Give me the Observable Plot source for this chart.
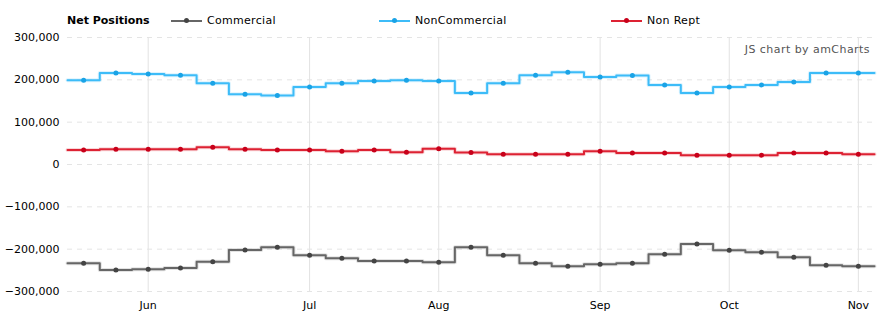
<!DOCTYPE html>
<html>
<head>
<meta charset="utf-8">
<script src="https://cdn.jsdelivr.net/npm/d3@7"></script>
<script src="https://cdn.jsdelivr.net/npm/@observablehq/plot@0.6"></script>
<style>
  html, body { margin: 0; padding: 0; background: #fff; }
  body { width: 888px; height: 325px; overflow: hidden; font-family: "DejaVu Sans", Verdana, sans-serif; }
  #wrap { position: relative; width: 888px; }
  #legend { height: 30px; position: relative; font-size: 11px; color: #000; }
  #legend .title { position: absolute; left: 67px; top: 14px; font-weight: bold; }
  #legend .item { position: absolute; top: 14px; display: flex; align-items: center; }
  #legend .lab { letter-spacing: 0.3px; }
  #legend .sw { position: relative; width: 31px; height: 2px; margin-right: 5px; }
  #legend .sw i { position: absolute; left: 13px; top: -1.5px; width: 5px; height: 5px; border-radius: 50%; }
  #credit { position: absolute; right: 18px; top: 43px; font-size: 11px; letter-spacing: 0.45px; color: #555; }
</style>
</head>
<body>
<div id="wrap">
  <div id="legend"></div>
  <div id="chart"></div>
  <div id="credit">JS chart by amCharts</div>
</div>
<script>
// Weekly report dates (Tuesdays)
const dates = [
  "2021-05-18","2021-05-25","2021-06-01","2021-06-08","2021-06-15","2021-06-22","2021-06-29",
  "2021-07-06","2021-07-13","2021-07-20","2021-07-27","2021-08-03","2021-08-10","2021-08-17",
  "2021-08-24","2021-08-31","2021-09-07","2021-09-14","2021-09-21","2021-09-28","2021-10-05",
  "2021-10-12","2021-10-19","2021-10-26","2021-11-02"
];
const commercial = [
  -233000,-249000,-247500,-244500,-230000,-202000,-195500,
  -214500,-221500,-228000,-228000,-231000,-195500,-214500,
  -233500,-240500,-235500,-233500,-212000,-188000,-202500,
  -207500,-219000,-238000,-240500
];
const nonCommercial = [
  199000,216000,214000,211000,192000,166000,163000,
  183000,192000,197000,199000,197000,169000,192000,
  211000,218000,206500,210000,188000,169000,183000,
  188000,195000,216000,216000
];
const nonRept = [
  34000,36000,36000,36000,41000,36000,34000,
  34500,31500,34500,29000,37000,28500,24500,
  24500,24500,31500,27000,27000,22000,22000,
  22000,27000,27000,24500
];
const seriesNames = ["Commercial", "NonCommercial", "Non Rept"];
const lineColors = ["#666666", "#3dbcf8", "#dd2233"];
const dotColors = ["#444444", "#1aa3e6", "#c8001a"];
const yTicks = [-300000, -200000, -100000, 0, 100000, 200000, 300000];
const monthTicks = ["2021-06-01","2021-07-06","2021-08-03","2021-09-07","2021-10-05","2021-11-02"];
const monthLabels = ["Jun","Jul","Aug","Sep","Oct","Nov"];
const legendTitle = "Net Positions";

const parse = d3.utcParse("%Y-%m-%d");
const D = dates.map(parse);
const halfWeek = 3.5 * 864e5;
const valuesBySeries = [commercial, nonCommercial, nonRept];

// points
const points = [];
valuesBySeries.forEach((vals, s) => vals.forEach((v, i) => points.push({series: seriesNames[s], date: D[i], value: v})));

// step path data: each value spans [date - half week, date + half week]
const steps = [];
valuesBySeries.forEach((vals, s) => {
  vals.forEach((v, i) => steps.push({series: seriesNames[s], date: new Date(+D[i] - halfWeek), value: v}));
  steps.push({series: seriesNames[s], date: new Date(+D[D.length - 1] + halfWeek), value: vals[vals.length - 1]});
});

const xDomain = [new Date(+D[0] - halfWeek), new Date(+D[D.length - 1] + halfWeek)];
const tickDates = monthTicks.map(parse);
const labelOf = new Map(tickDates.map((d, i) => [+d, monthLabels[i]]));
const fmt = d3.format(",");

const chart = Plot.plot({
  width: 888,
  height: 295,
  marginTop: 7,
  marginBottom: 34,
  marginLeft: 67,
  marginRight: 14,
  style: {fontFamily: "'DejaVu Sans', Verdana, sans-serif", fontSize: "11px", color: "#000", background: "#fff"},
  x: {type: "utc", domain: xDomain, ticks: tickDates, tickFormat: d => labelOf.get(+d), tickSize: 0, tickPadding: 10, label: null},
  y: {domain: [-300000, 300000], ticks: yTicks, tickFormat: d => fmt(d), tickSize: 0, tickPadding: 8, label: null},
  color: {domain: seriesNames, range: lineColors},
  marks: [
    Plot.ruleY(yTicks, {stroke: "#e4e4e4", strokeDasharray: "5,5", strokeWidth: 1}),
    Plot.ruleX(tickDates, {stroke: "#e2e2e2", strokeWidth: 1}),
    Plot.lineY(steps, {x: "date", y: "value", z: "series", stroke: "series", curve: "step-after", strokeWidth: 4, strokeOpacity: 0.18}),
    Plot.lineY(steps, {x: "date", y: "value", z: "series", stroke: "series", curve: "step-after", strokeWidth: 2}),
    Plot.dot(points, {x: "date", y: "value", r: 2.5, fill: d => dotColors[seriesNames.indexOf(d.series)], stroke: "none"}),
    Plot.axisX({ticks: tickDates, tickFormat: d => labelOf.get(+d), tickSize: 0, tickPadding: 10, label: null}),
    Plot.axisY({ticks: yTicks, tickFormat: d => fmt(d), tickSize: 0, tickPadding: 8, label: null})
  ]
});
document.getElementById("chart").appendChild(chart);

// legend
const legend = document.getElementById("legend");
const t = document.createElement("span");
t.className = "title";
t.textContent = legendTitle;
legend.appendChild(t);
const legendX = [171, 379, 611];
seriesNames.forEach((name, i) => {
  const item = document.createElement("span");
  item.className = "item";
  item.style.left = legendX[i] + "px";
  const sw = document.createElement("span");
  sw.className = "sw";
  sw.style.background = lineColors[i];
  const dot = document.createElement("i");
  dot.style.background = dotColors[i];
  sw.appendChild(dot);
  const lab = document.createElement("span");
  lab.className = "lab";
  lab.textContent = name;
  item.appendChild(sw);
  item.appendChild(lab);
  legend.appendChild(item);
});
</script>
</body>
</html>
